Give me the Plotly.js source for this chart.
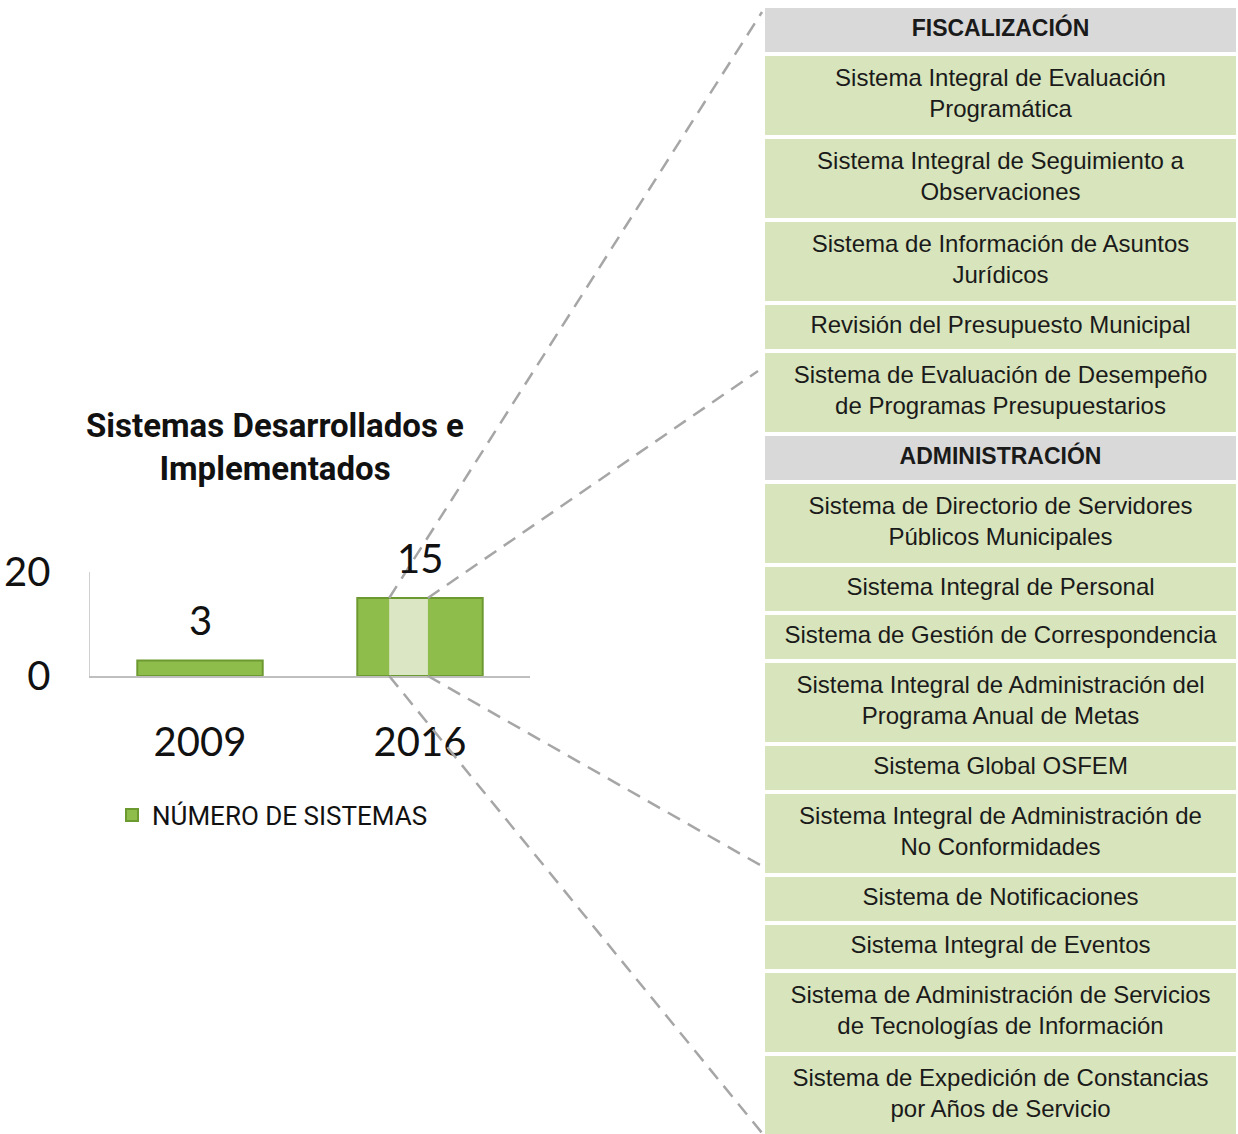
<!DOCTYPE html>
<html>
<head>
<meta charset="utf-8">
<script src="https://cdn.plot.ly/plotly-3.0.1.min.js"></script>
<style>
  html, body { margin: 0; padding: 0; background: #ffffff; }
  #chart { width: 1238px; height: 1134px; }
</style>
</head>
<body>
<div id="chart"></div>
<script>
// ---------------- DATA ----------------
const years = ['2009', '2016'];
const numeroSistemas = [3, 15];
const seriesName = 'NÚMERO DE SISTEMAS';
const chartTitle = 'Sistemas Desarrollados e<br>Implementados';
const yTicks = [0, 20];

const sectionFiscalizacion = 'FISCALIZACIÓN';
const sistemasFiscalizacion = [
  'Sistema Integral de Evaluación<br>Programática',
  'Sistema Integral de Seguimiento a<br>Observaciones',
  'Sistema de Información de Asuntos<br>Jurídicos',
  'Revisión del Presupuesto Municipal',
  'Sistema de Evaluación de Desempeño<br>de Programas Presupuestarios'
];
const sectionAdministracion = 'ADMINISTRACIÓN';
const sistemasAdministracion = [
  'Sistema de Directorio de Servidores<br>Públicos Municipales',
  'Sistema Integral de Personal',
  'Sistema de Gestión de Correspondencia',
  'Sistema Integral de Administración del<br>Programa Anual de Metas',
  'Sistema Global OSFEM',
  'Sistema Integral de Administración de<br>No Conformidades',
  'Sistema de Notificaciones',
  'Sistema Integral de Eventos',
  'Sistema de Administración de Servicios<br>de Tecnologías de Información',
  'Sistema de Expedición de Constancias<br>por Años de Servicio'
];

// ---------------- STYLE / LAYOUT CONSTANTS ----------------
const W = 1238, H = 1134;
const TITLE_FONT = "Roboto, 'Liberation Sans', sans-serif";
const DIGIT_FONT = "Lato, 'Open Sans', sans-serif";
const SANS = "'Liberation Sans', Arial, sans-serif";
const TABLE_L = 765, TABLE_R = 1236, TABLE_TOP = 8;
const ROW_H1 = 44, ROW_H2 = 79, ROW_GAP = 4;
const HEADER_FILL = '#d9d9d9', ITEM_FILL = '#d8e4bc';
const BAR_FILL = '#8fbd4c', BAR_LINE = '#6d9931';

// build table rows
const rows = [];
rows.push({ text: '<b>' + sectionFiscalizacion + '</b>', header: true });
sistemasFiscalizacion.forEach(t => rows.push({ text: t, header: false }));
rows.push({ text: '<b>' + sectionAdministracion + '</b>', header: true });
sistemasAdministracion.forEach(t => rows.push({ text: t, header: false }));

let cursor = TABLE_TOP;
rows.forEach(r => {
  const lines = r.text.split('<br>').length;
  r.h = lines > 1 ? ROW_H2 : ROW_H1;
  r.top = cursor;
  r.center = cursor + r.h / 2;
  cursor += r.h + ROW_GAP;
});

const bars = {
  type: 'bar',
  x: years, y: numeroSistemas,
  xaxis: 'x', yaxis: 'y',
  name: seriesName,
  marker: { color: BAR_FILL, line: { color: BAR_LINE, width: 2 } },
  hoverinfo: 'x+y'
};
const tableCells = {
  type: 'bar', orientation: 'h',
  xaxis: 'x2', yaxis: 'y2',
  y: rows.map(r => r.center),
  x: rows.map(() => TABLE_R - TABLE_L),
  base: rows.map(() => TABLE_L),
  width: rows.map(r => r.h),
  marker: { color: rows.map(r => r.header ? HEADER_FILL : ITEM_FILL), line: { width: 0 } },
  hoverinfo: 'skip', showlegend: false
};
const tableText = {
  type: 'scatter', mode: 'text',
  xaxis: 'x2', yaxis: 'y2',
  x: rows.map(() => (TABLE_L + TABLE_R) / 2),
  y: rows.map(r => r.center),
  text: rows.map(r => r.text),
  textposition: 'middle center',
  textfont: { family: SANS, size: rows.map(r => r.header ? 23 : 24), color: '#1a1a1a' },
  hoverinfo: 'skip', showlegend: false
};

const MINI_L = -0.14, MINI_R = 0.036;

const layout = {
  width: W, height: H,
  margin: { l: 0, r: 0, t: 0, b: 0 },
  paper_bgcolor: '#ffffff', plot_bgcolor: 'rgba(0,0,0,0)',
  showlegend: true,
  bargap: 0.43,
  title: {
    text: '<b>' + chartTitle + '</b>',
    font: { family: TITLE_FONT, size: 33, color: '#111111' },
    x: 275 / W, xanchor: 'center', xref: 'paper',
    y: 1 - 437 / H, yanchor: 'middle', yref: 'paper'
  },
  xaxis: {
    domain: [90 / W, 530 / W], anchor: 'y',
    type: 'category', range: [-0.5, 1.5], autorange: false,
    showline: true, linecolor: '#bfbfbf', linewidth: 1.5,
    showgrid: false, zeroline: false, ticks: '',
    ticklabelstandoff: 30,
    tickfont: { family: DIGIT_FONT, size: 40, color: '#111111' },
    fixedrange: true
  },
  yaxis: {
    domain: [1 - 676 / H, 1 - 572 / H], anchor: 'x',
    range: [0, 20], autorange: false, tickvals: yTicks,
    showline: true, linecolor: '#d0d0d0', linewidth: 1.5,
    showgrid: false, zeroline: false, ticks: '',
    ticklabelstandoff: 30,
    tickfont: { family: DIGIT_FONT, size: 40, color: '#111111' },
    fixedrange: true
  },
  xaxis2: { domain: [0, 1], range: [0, W], autorange: false, anchor: 'y2', visible: false, fixedrange: true },
  yaxis2: { domain: [0, 1], range: [H, 0], autorange: false, anchor: 'x2', visible: false, fixedrange: true },
  legend: {
    x: 112 / W, xanchor: 'left', y: 1 - 815 / H, yanchor: 'middle',
    font: { family: TITLE_FONT, size: 26, color: '#111111' },
    bgcolor: 'rgba(0,0,0,0)', borderwidth: 0
  },
  annotations: years.map((yr, i) => ({
    x: i, y: numeroSistemas[i], xref: 'x', yref: 'y',
    text: String(numeroSistemas[i]), showarrow: false,
    yanchor: 'bottom', yshift: 14,
    font: { family: DIGIT_FONT, size: 40, color: '#111111' }
  }))
};

Plotly.newPlot('chart', [bars, tableCells, tableText], layout, { displayModeBar: false, staticPlot: true })
.then(gd => {
  const xa = gd._fullLayout.xaxis, ya = gd._fullLayout.yaxis;
  const px = v => xa._offset + xa.l2p(v);
  const py = v => ya._offset + ya.l2p(v);
  const i16 = years.indexOf('2016');
  const mL = px(i16 + MINI_L), mR = px(i16 + MINI_R);
  const mT = py(numeroSistemas[i16]), mB = py(0);
  const row5 = rows[5], row11 = rows[12], last = rows[rows.length - 1];
  const dash = { color: '#a6a6a6', width: 2.5, dash: '14px,9px' };
  const shapes = [{
    type: 'rect', xref: 'x2', yref: 'y2', layer: 'above',
    x0: mL, x1: mR, y0: mT + 1, y1: mB - 1,
    fillcolor: 'rgba(226,234,206,0.92)', line: { width: 0 }
  }];
  [
    [mL, mT, TABLE_L - 3, TABLE_TOP + 4],
    [mR, mT, TABLE_L - 7, row5.top + 18],
    [mR, mB, TABLE_L - 5, row11.top + row11.h - 8],
    [mL, mB, TABLE_L - 3, last.top + last.h - 2]
  ].forEach(c => shapes.push({
    type: 'line', xref: 'x2', yref: 'y2', layer: 'below',
    x0: c[0], y0: c[1], x1: c[2], y1: c[3], line: dash
  }));
  return Plotly.relayout(gd, { shapes: shapes });
});
</script>
</body>
</html>
